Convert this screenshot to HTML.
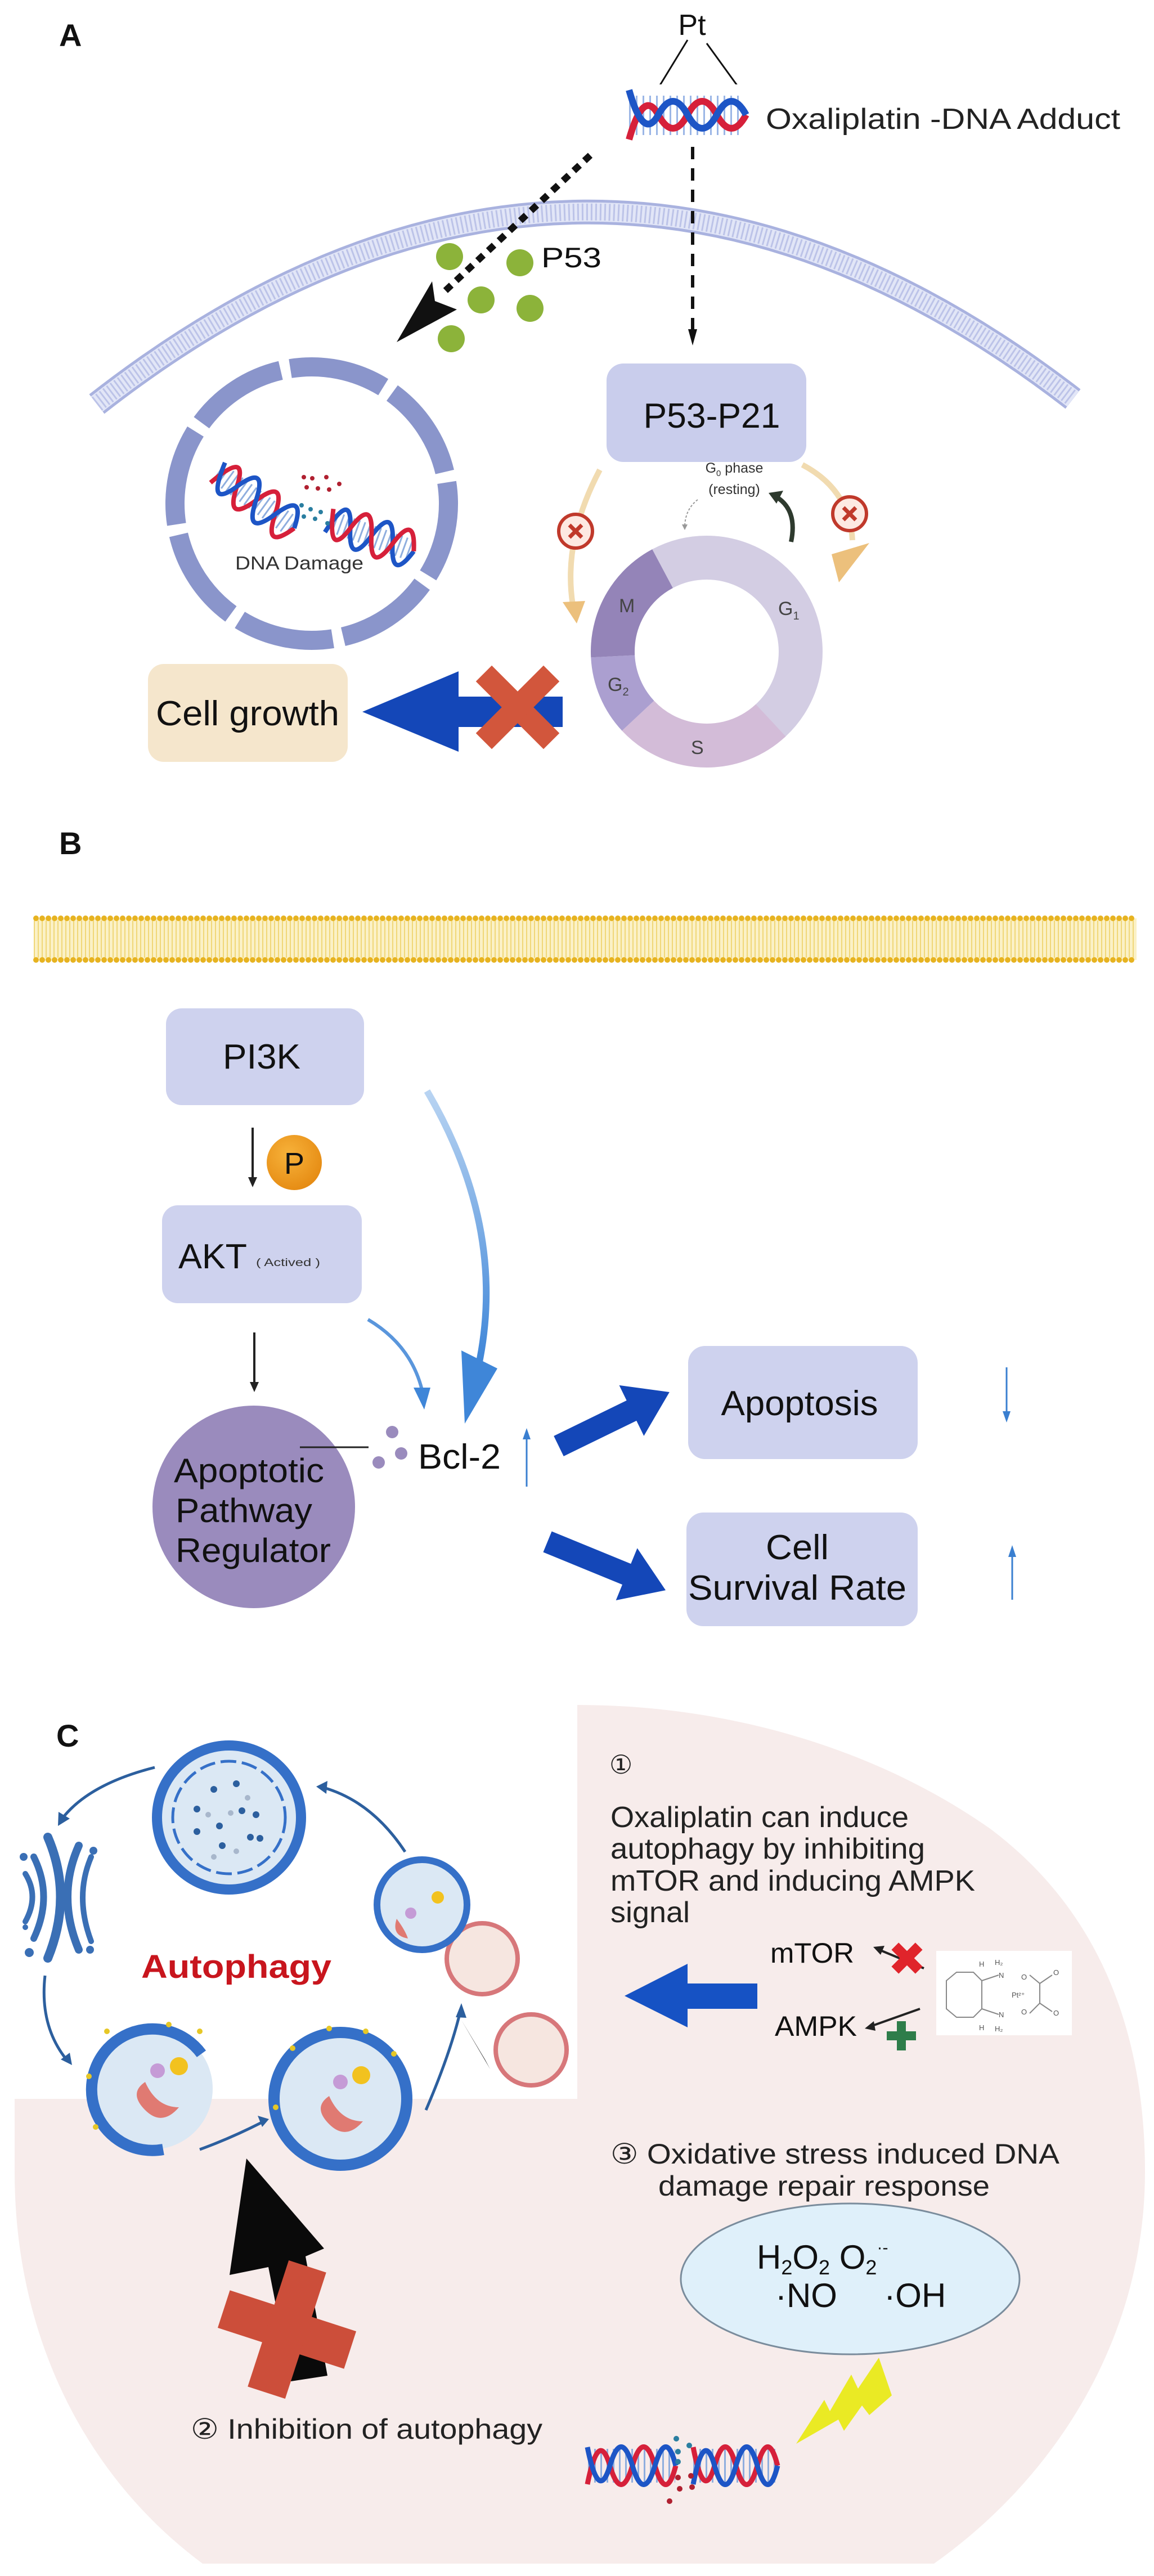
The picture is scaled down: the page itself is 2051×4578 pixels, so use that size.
<!DOCTYPE html>
<html><head><meta charset="utf-8">
<style>
html,body{margin:0;padding:0;background:#fff;}
svg{display:block;}
text{font-family:"Liberation Sans",Arial,sans-serif;}
</style></head>
<body>
<svg width="2051" height="4578" viewBox="0 0 2051 4578" xmlns="http://www.w3.org/2000/svg">
<defs>
<linearGradient id="bg1" x1="0" y1="0" x2="0" y2="1">
<stop offset="0" stop-color="#b9d4f2"/><stop offset="1" stop-color="#3f86d8"/></linearGradient>
<radialGradient id="pg" cx="0.4" cy="0.35" r="0.7"><stop offset="0" stop-color="#f7b23a"/><stop offset="1" stop-color="#e58a12"/></radialGradient>
</defs>

<!-- ============ PANEL A ============ -->
<text x="105" y="82" font-size="56" font-weight="bold" fill="#111">A</text>

<path d="M172,718 Q1040,40 1907,709" fill="none" stroke="#a9b2df" stroke-width="44"/>
<path d="M172,718 Q1040,40 1907,709" fill="none" stroke="#e2e6f7" stroke-width="34"/>
<path d="M172,718 Q1040,40 1907,709" fill="none" stroke="#bcc3e8" stroke-width="30" stroke-dasharray="3 5"/>

<text x="1230" y="62" font-size="52" fill="#111" text-anchor="middle">Pt</text>
<line x1="1222" y1="71" x2="1164" y2="166" stroke="#111" stroke-width="3"/>
<line x1="1256" y1="77" x2="1319" y2="164" stroke="#111" stroke-width="3"/>
<g>
<line x1="1118" y1="204" x2="1322" y2="204" stroke="#9bb6e6" stroke-width="80" stroke-dasharray="3 9"/>
<rect x="1100" y="150" width="240" height="20" fill="#fff"/>
<rect x="1100" y="240" width="240" height="20" fill="#fff"/>
<path d="M1118,248 q26,-92 52,-44 t52,0 t52,0 t52,0" fill="none" stroke="#d6203a" stroke-width="12"/>
<path d="M1118,160 q26,92 52,44 t52,0 t52,0 t52,0" fill="none" stroke="#1d55c6" stroke-width="12"/>
</g>
<text x="1361" y="229" font-size="52" fill="#222" textLength="630" lengthAdjust="spacingAndGlyphs">Oxaliplatin -DNA Adduct</text>

<line x1="1049" y1="276" x2="789" y2="519" stroke="#111" stroke-width="12" stroke-dasharray="14 12"/>
<polygon points="705,608 768,500 773,535 812,550" fill="#111"/>
<line x1="1231" y1="261" x2="1231" y2="590" stroke="#111" stroke-width="6" stroke-dasharray="22 16"/>
<polygon points="1223,585 1239,585 1231,614" fill="#111"/>

<g fill="#8cb33a">
<circle cx="799" cy="456" r="24"/><circle cx="924" cy="467" r="24"/>
<circle cx="855" cy="533" r="24"/><circle cx="942" cy="548" r="24"/>
<circle cx="802" cy="602" r="24"/></g>
<text x="962" y="475" font-size="50" fill="#111" textLength="107" lengthAdjust="spacingAndGlyphs">P53</text>

<circle cx="554" cy="895" r="243" fill="none" stroke="#8a95cb" stroke-width="34" stroke-dasharray="172 19" transform="rotate(-99 554 895)"/>
<g transform="translate(387,840) rotate(36)">
<line x1="0" y1="0" x2="170" y2="0" stroke="#8faede" stroke-width="38" stroke-dasharray="3 7"/>
<path d="M0,22 q21,-88 42,-22 t42,0 t42,0 t42,0" fill="none" stroke="#d6203a" stroke-width="8"/>
<path d="M0,-22 q21,88 42,22 t42,0 t42,0 t42,0" fill="none" stroke="#1d55c6" stroke-width="8"/>
</g>
<g transform="translate(585,925) rotate(20)">
<line x1="0" y1="0" x2="160" y2="0" stroke="#8faede" stroke-width="38" stroke-dasharray="3 7"/>
<path d="M0,22 q20,-88 40,-22 t40,0 t40,0 t40,0" fill="none" stroke="#1d55c6" stroke-width="8"/>
<path d="M0,-22 q20,88 40,22 t40,0 t40,0 t40,0" fill="none" stroke="#d6203a" stroke-width="8"/>
</g>
<g fill="#b02030"><circle cx="540" cy="848" r="4"/><circle cx="555" cy="850" r="4"/><circle cx="580" cy="848" r="4"/><circle cx="545" cy="866" r="4"/><circle cx="565" cy="868" r="4"/><circle cx="585" cy="870" r="4"/><circle cx="603" cy="860" r="4"/></g>
<g fill="#2a7ea0"><circle cx="536" cy="898" r="4"/><circle cx="552" cy="905" r="4"/><circle cx="570" cy="910" r="4"/><circle cx="540" cy="918" r="4"/><circle cx="560" cy="922" r="4"/><circle cx="582" cy="930" r="4"/></g>
<text x="532" y="1012" font-size="33" fill="#333" text-anchor="middle" textLength="228" lengthAdjust="spacingAndGlyphs">DNA Damage</text>

<rect x="1078" y="646" width="355" height="175" rx="30" fill="#c9cdec"/>
<text x="1265" y="760" font-size="62" fill="#111" text-anchor="middle" textLength="243" lengthAdjust="spacingAndGlyphs">P53-P21</text>

<path d="M1066,835 Q1000,960 1018,1075" fill="none" stroke="#f1dbb0" stroke-width="10"/>
<polygon points="1000,1070 1040,1068 1025,1108" fill="#ecc07c"/>
<path d="M1426,826 Q1510,870 1515,960" fill="none" stroke="#f1dbb0" stroke-width="10"/>
<polygon points="1478,985 1545,965 1491,1035" fill="#ecc07c"/>
<g><circle cx="1023" cy="944" r="30" fill="#fde9e2" stroke="#c0392b" stroke-width="6"/>
<path d="M1012,933 L1034,955 M1034,933 L1012,955" stroke="#c0392b" stroke-width="7"/></g>
<g><circle cx="1510" cy="913" r="30" fill="#fde9e2" stroke="#c0392b" stroke-width="6"/>
<path d="M1499,902 L1521,924 M1521,902 L1499,924" stroke="#c0392b" stroke-width="7"/></g>

<text x="1305" y="840" font-size="25" fill="#333" text-anchor="middle">G<tspan font-size="15" dy="6">0</tspan><tspan dy="-6"> phase</tspan></text>
<text x="1305" y="878" font-size="25" fill="#333" text-anchor="middle">(resting)</text>
<path d="M1240,888 Q1218,905 1217,935" fill="none" stroke="#999" stroke-width="2" stroke-dasharray="4 3"/>
<polygon points="1212,932 1222,932 1217,942" fill="#999"/>
<path d="M1406,963 Q1418,905 1378,882" fill="none" stroke="#2e3a2e" stroke-width="8"/>
<polygon points="1366,876 1392,872 1380,895" fill="#2e3a2e"/>

<g fill="none" stroke-width="78">
<circle cx="1256" cy="1158" r="167" stroke="#d3cde3" stroke-dasharray="344 2000" stroke-dashoffset="-705"/>
<circle cx="1256" cy="1158" r="167" stroke="#d3cde3" stroke-dasharray="140 2000" stroke-dashoffset="0"/>
<circle cx="1256" cy="1158" r="167" stroke="#d3bcd8" stroke-dasharray="262 2000" stroke-dashoffset="-137"/>
<circle cx="1256" cy="1158" r="167" stroke="#ab9fd0" stroke-dasharray="117 2000" stroke-dashoffset="-399"/>
<circle cx="1256" cy="1158" r="167" stroke="#9484b8" stroke-dasharray="189 2000" stroke-dashoffset="-516"/>
</g>
<g font-size="34" fill="#444">
<text x="1100" y="1088">M</text>
<text x="1383" y="1093">G<tspan font-size="20" dy="8">1</tspan></text>
<text x="1080" y="1228">G<tspan font-size="20" dy="8">2</tspan></text>
<text x="1228" y="1340">S</text>
</g>

<rect x="263" y="1180" width="355" height="174" rx="28" fill="#f5e6cc"/>
<text x="440" y="1289" font-size="62" fill="#111" text-anchor="middle" textLength="326" lengthAdjust="spacingAndGlyphs">Cell growth</text>
<polygon points="644,1265 815,1193 815,1238 1000,1238 1000,1292 815,1292 815,1336" fill="#1447b8"/>
<g transform="translate(920,1257) rotate(45)">
<rect x="-85" y="-20" width="170" height="40" fill="#d2563c"/>
<rect x="-20" y="-85" width="40" height="170" fill="#d2563c"/>
</g>

<!-- ============ PANEL B ============ -->
<text x="105" y="1518" font-size="56" font-weight="bold" fill="#111">B</text>
<rect x="60" y="1632" width="1960" height="74" fill="#fbf1c6"/>
<line x1="60" y1="1669" x2="2020" y2="1669" stroke="#f0d778" stroke-width="66" stroke-dasharray="2 5"/>
<line x1="64" y1="1632" x2="2020" y2="1632" stroke="#e7b320" stroke-width="10" stroke-dasharray="0 11" stroke-linecap="round"/>
<line x1="64" y1="1706" x2="2020" y2="1706" stroke="#e7b320" stroke-width="10" stroke-dasharray="0 11" stroke-linecap="round"/>

<rect x="295" y="1792" width="352" height="172" rx="28" fill="#ced2ee"/>
<text x="465" y="1899" font-size="62" fill="#111" text-anchor="middle" textLength="138" lengthAdjust="spacingAndGlyphs">PI3K</text>
<line x1="449" y1="2004" x2="449" y2="2095" stroke="#222" stroke-width="4"/>
<polygon points="441,2092 457,2092 449,2110" fill="#222"/>
<circle cx="523" cy="2066" r="49" fill="url(#pg)"/>
<text x="523" y="2086" font-size="54" fill="#111" text-anchor="middle">P</text>

<rect x="288" y="2142" width="355" height="174" rx="28" fill="#ced2ee"/>
<text x="317" y="2254" font-size="62" fill="#111" textLength="122" lengthAdjust="spacingAndGlyphs">AKT</text>
<text x="455" y="2250" font-size="19" fill="#333" textLength="114" lengthAdjust="spacingAndGlyphs">( Actived )</text>
<line x1="452" y1="2368" x2="452" y2="2458" stroke="#222" stroke-width="4"/>
<polygon points="444,2456 460,2456 452,2474" fill="#222"/>

<circle cx="451" cy="2678" r="180" fill="#9a8bbd"/>
<g font-size="60" fill="#111">
<text x="309" y="2634" textLength="267" lengthAdjust="spacingAndGlyphs">Apoptotic</text>
<text x="312" y="2705" textLength="243" lengthAdjust="spacingAndGlyphs">Pathway</text>
<text x="312" y="2776" textLength="276" lengthAdjust="spacingAndGlyphs">Regulator</text>
</g>
<line x1="533" y1="2572" x2="655" y2="2572" stroke="#222" stroke-width="3"/>
<g fill="#9a8bbd"><circle cx="697" cy="2545" r="11"/><circle cx="713" cy="2583" r="11"/><circle cx="673" cy="2599" r="11"/></g>
<text x="743" y="2610" font-size="62" fill="#111" textLength="147" lengthAdjust="spacingAndGlyphs">Bcl-2</text>
<line x1="936" y1="2642" x2="936" y2="2555" stroke="#3a7fd0" stroke-width="3"/>
<polygon points="929,2558 943,2558 936,2538" fill="#3a7fd0"/>

<path d="M759,1939 Q900,2180 852,2420" fill="none" stroke="url(#bg1)" stroke-width="12"/>
<polygon points="820,2400 884,2432 826,2530" fill="#3f86d8"/>
<path d="M654,2345 Q730,2390 750,2470" fill="none" stroke="#5a96dc" stroke-width="6"/>
<polygon points="735,2466 765,2466 754,2505" fill="#3f86d8"/>

<g transform="translate(993,2570) rotate(-26)"><polygon points="0,-20 144,-20 144,-50 219,0 144,50 144,20 0,20" fill="#1447b8"/></g>
<g transform="translate(973,2740) rotate(22.3)"><polygon points="0,-20 152,-20 152,-50 227,0 152,50 152,20 0,20" fill="#1447b8"/></g>

<rect x="1223" y="2392" width="408" height="201" rx="30" fill="#ced2ee"/>
<text x="1421" y="2515" font-size="62" fill="#111" text-anchor="middle" textLength="279" lengthAdjust="spacingAndGlyphs">Apoptosis</text>
<line x1="1789" y1="2430" x2="1789" y2="2510" stroke="#3a7fd0" stroke-width="3"/>
<polygon points="1782,2508 1796,2508 1789,2528" fill="#3a7fd0"/>

<rect x="1220" y="2688" width="411" height="202" rx="30" fill="#ced2ee"/>
<text x="1417" y="2771" font-size="62" fill="#111" text-anchor="middle" textLength="112" lengthAdjust="spacingAndGlyphs">Cell</text>
<text x="1417" y="2843" font-size="62" fill="#111" text-anchor="middle" textLength="388" lengthAdjust="spacingAndGlyphs">Survival Rate</text>
<line x1="1799" y1="2843" x2="1799" y2="2765" stroke="#3a7fd0" stroke-width="3"/>
<polygon points="1792,2767 1806,2767 1799,2746" fill="#3a7fd0"/>

<!-- ============ PANEL C ============ -->
<path d="M1026,3030 C1300,3030 1560,3110 1760,3250 C1960,3400 2035,3620 2035,3860 C2035,4150 1880,4400 1660,4556 L360,4556 C150,4400 26,4150 26,3860 L26,3730 L1026,3730 Z" fill="#f7eceb"/>
<text x="100" y="3104" font-size="56" font-weight="bold" fill="#111">C</text>

<circle cx="407" cy="3230" r="128" fill="#dbe8f4" stroke="#3570c8" stroke-width="18"/>
<circle cx="407" cy="3230" r="100" fill="none" stroke="#3570c8" stroke-width="5" stroke-dasharray="28 10"/>
<g fill="#2c5f9e"><circle cx="380" cy="3180" r="6"/><circle cx="420" cy="3170" r="6"/><circle cx="350" cy="3215" r="6"/><circle cx="430" cy="3218" r="6"/><circle cx="455" cy="3225" r="6"/><circle cx="390" cy="3245" r="6"/><circle cx="350" cy="3255" r="6"/><circle cx="395" cy="3280" r="6"/><circle cx="445" cy="3265" r="6"/><circle cx="462" cy="3267" r="6"/></g>
<g fill="#a8b7cc"><circle cx="370" cy="3225" r="5"/><circle cx="410" cy="3222" r="5"/><circle cx="440" cy="3195" r="5"/><circle cx="420" cy="3290" r="5"/><circle cx="380" cy="3300" r="5"/></g>

<g fill="none" stroke="#3a6fb5" stroke-linecap="round">
<path d="M85,3265 Q130,3370 85,3480" stroke-width="16"/>
<path d="M60,3300 Q95,3370 60,3445" stroke-width="12"/>
<path d="M45,3330 Q70,3370 45,3415" stroke-width="10"/>
<path d="M140,3280 Q100,3370 140,3465" stroke-width="14"/>
<path d="M162,3300 Q132,3370 162,3450" stroke-width="10"/>
</g>
<g fill="#3a6fb5"><circle cx="42" cy="3300" r="7"/><circle cx="166" cy="3289" r="7"/><circle cx="52" cy="3470" r="8"/><circle cx="160" cy="3465" r="7"/><circle cx="45" cy="3425" r="5"/></g>

<text x="251" y="3515" font-size="58" font-weight="bold" fill="#c8151d" textLength="338" lengthAdjust="spacingAndGlyphs">Autophagy</text>

<circle cx="270" cy="3712" r="108" fill="#dbe8f4"/>
<path d="M358,3650 A108,108 0 1 0 290,3820" fill="none" stroke="#3570c8" stroke-width="20"/>
<path d="M258,3700 q-30,20 0,50 q30,30 60,-5 q-40,0 -60,-45z" fill="#e07a72"/>
<circle cx="280" cy="3680" r="13" fill="#c59bd6"/><circle cx="318" cy="3672" r="16" fill="#f2c21f"/>
<circle cx="605" cy="3730" r="118" fill="#dbe8f4" stroke="#3570c8" stroke-width="20"/>
<path d="M585,3725 q-30,20 0,50 q30,30 60,-5 q-40,0 -60,-45z" fill="#e07a72"/>
<circle cx="605" cy="3700" r="13" fill="#c59bd6"/><circle cx="642" cy="3688" r="16" fill="#f2c21f"/>
<g fill="#e6c726"><circle cx="190" cy="3610" r="5"/><circle cx="300" cy="3598" r="5"/><circle cx="355" cy="3610" r="5"/><circle cx="158" cy="3690" r="5"/><circle cx="170" cy="3780" r="5"/><circle cx="520" cy="3640" r="5"/><circle cx="585" cy="3605" r="5"/><circle cx="650" cy="3610" r="5"/><circle cx="700" cy="3650" r="5"/><circle cx="490" cy="3745" r="5"/></g>

<circle cx="857" cy="3481" r="63" fill="#f6e6e0" stroke="#d7777a" stroke-width="8"/>
<circle cx="750" cy="3385" r="80" fill="#dbe8f4" stroke="#3570c8" stroke-width="12"/>
<circle cx="730" cy="3400" r="10" fill="#c59bd6"/><circle cx="778" cy="3372" r="11" fill="#f2c21f"/>
<path d="M705,3410 q-10,30 20,35 q-5,-15 -20,-35z" fill="#e07a72"/>
<circle cx="944" cy="3643" r="63" fill="#f6e6e0" stroke="#d7777a" stroke-width="8"/>

<g fill="none" stroke="#2c5f9e" stroke-width="5">
<path d="M275,3141 Q160,3170 112,3230"/>
<path d="M80,3511 Q70,3600 118,3660"/>
<path d="M355,3820 Q410,3800 465,3772"/>
<path d="M757,3750 Q800,3650 818,3575"/>
<path d="M720,3291 Q660,3200 572,3176"/>
</g>
<g fill="#2c5f9e">
<polygon points="103,3245 104,3220 124,3232"/>
<polygon points="128,3670 108,3660 124,3648"/>
<polygon points="478,3766 458,3760 466,3780"/>
<polygon points="820,3560 810,3585 829,3586"/>
<polygon points="562,3175 582,3165 580,3188"/>
</g>
<polygon points="871,3677 820,3590 862,3660" fill="#222"/>

<text x="1083" y="3152" font-size="46" fill="#222">①</text>
<g font-size="52" fill="#222">
<text x="1085" y="3247" textLength="530" lengthAdjust="spacingAndGlyphs">Oxaliplatin can induce</text>
<text x="1085" y="3303" textLength="559" lengthAdjust="spacingAndGlyphs">autophagy by inhibiting</text>
<text x="1085" y="3360" textLength="648" lengthAdjust="spacingAndGlyphs">mTOR and inducing AMPK</text>
<text x="1085" y="3416" textLength="141" lengthAdjust="spacingAndGlyphs">signal</text>
</g>
<polygon points="1110,3547 1222,3490 1222,3525 1346,3525 1346,3570 1222,3570 1222,3603" fill="#1652c4"/>
<text x="1369" y="3488" font-size="50" fill="#111" textLength="149" lengthAdjust="spacingAndGlyphs">mTOR</text>
<text x="1377" y="3618" font-size="50" fill="#111" textLength="146" lengthAdjust="spacingAndGlyphs">AMPK</text>
<line x1="1642" y1="3498" x2="1560" y2="3464" stroke="#222" stroke-width="4"/>
<polygon points="1552,3460 1572,3458 1565,3474" fill="#222"/>
<g transform="translate(1612,3480) rotate(45)"><rect x="-30" y="-9" width="60" height="18" fill="#e0242b"/><rect x="-9" y="-30" width="18" height="60" fill="#e0242b"/></g>
<line x1="1635" y1="3570" x2="1545" y2="3602" stroke="#222" stroke-width="4"/>
<polygon points="1537,3605 1553,3592 1556,3609" fill="#222"/>
<g transform="translate(1602,3618)"><rect x="-26" y="-8" width="52" height="16" fill="#2e7d4a"/><rect x="-8" y="-26" width="16" height="52" fill="#2e7d4a"/></g>
<rect x="1664" y="3467" width="241" height="150" fill="#fff"/>
<g fill="none" stroke="#888" stroke-width="2">
<path d="M1682,3520 L1700,3505 L1730,3505 L1745,3520 L1745,3570 L1730,3585 L1700,3585 L1682,3570 Z"/>
<path d="M1745,3520 L1775,3510 M1745,3570 L1775,3580 M1830,3510 L1848,3525 L1848,3560 L1830,3578 M1848,3525 L1870,3510 M1848,3560 L1870,3575"/>
</g>
<g font-size="13" fill="#555">
<text x="1740" y="3495">H</text><text x="1768" y="3492">H₂</text><text x="1775" y="3515">N</text>
<text x="1775" y="3585">N</text><text x="1740" y="3608">H</text><text x="1768" y="3610">H₂</text>
<text x="1798" y="3550">Pt²⁺</text><text x="1815" y="3518">O</text><text x="1872" y="3510">O</text>
<text x="1815" y="3580">O</text><text x="1872" y="3582">O</text>
</g>

<text x="1085" y="3845" font-size="50" fill="#222" textLength="798" lengthAdjust="spacingAndGlyphs">③  Oxidative stress induced DNA</text>
<text x="1170" y="3902" font-size="50" fill="#222" textLength="589" lengthAdjust="spacingAndGlyphs">damage repair response</text>
<ellipse cx="1511" cy="4050" rx="301" ry="134" fill="#dff0fa" stroke="#7a8c9c" stroke-width="3"/>
<text x="1345" y="4032" font-size="60" fill="#111">H<tspan font-size="36" dy="10">2</tspan><tspan dy="-10">O</tspan><tspan font-size="36" dy="10">2</tspan><tspan dy="-10">   O</tspan><tspan font-size="36" dy="10">2</tspan><tspan font-size="30" dy="-38">·-</tspan></text>
<text x="1378" y="4100" font-size="60" fill="#111" xml:space="preserve">·NO     ·OH</text>

<polygon points="1415,4343 1465,4265 1475,4285 1513,4220 1525,4245 1562,4190 1585,4257 1545,4292 1532,4275 1500,4320 1490,4300" fill="#eaea24"/>

<g>
<line x1="1045" y1="4382" x2="1380" y2="4382" stroke="#8faede" stroke-width="60" stroke-dasharray="3 8"/>
<rect x="1200" y="4340" width="30" height="90" fill="#f7eceb"/>
<path d="M1044,4415 q20,-100 40,-33 t40,0 t40,0 t37,0" fill="none" stroke="#d6203a" stroke-width="9"/>
<path d="M1044,4349 q20,100 40,33 t40,0 t40,0 t37,0" fill="none" stroke="#1d55c6" stroke-width="9"/>
<path d="M1232,4349 q19,100 38,33 t38,0 t38,0 t36,0" fill="none" stroke="#d6203a" stroke-width="9"/>
<path d="M1232,4415 q19,-100 38,-33 t38,0 t38,0 t36,0" fill="none" stroke="#1d55c6" stroke-width="9"/>
<g fill="#2a7ea0"><circle cx="1202" cy="4334" r="5"/><circle cx="1205" cy="4357" r="5"/><circle cx="1225" cy="4346" r="5"/><circle cx="1205" cy="4375" r="5"/></g>
<g fill="#b02030"><circle cx="1205" cy="4403" r="5"/><circle cx="1208" cy="4423" r="5"/><circle cx="1230" cy="4420" r="5"/><circle cx="1190" cy="4445" r="5"/><circle cx="1228" cy="4400" r="5"/></g>
</g>

<polygon points="438,3836 408,4043 477,4029 517,4232 582,4222 543,4010 576,3996" fill="#0a0a0a"/>
<g transform="translate(510,4140) rotate(18)">
<rect x="-118" y="-35" width="236" height="70" fill="#cc4e3a"/>
<rect x="-35" y="-118" width="70" height="236" fill="#cc4e3a"/>
</g>
<text x="339" y="4334" font-size="50" fill="#222" textLength="625" lengthAdjust="spacingAndGlyphs">② Inhibition of autophagy</text>

</svg>
</body></html>
